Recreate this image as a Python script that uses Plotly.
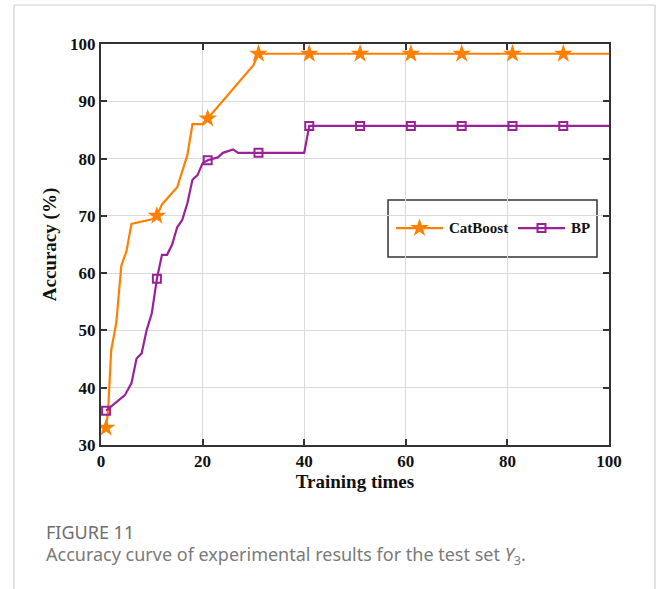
import plotly.graph_objects as go

# ---- data ----
cat_x = [1, 1.4, 2, 3, 4, 5, 6, 10, 11, 12, 15, 17, 18, 20, 21, 30, 31, 41, 51, 61, 71, 81, 91, 100]
cat_y = [33, 36, 46.5, 51.3, 61.3, 63.8, 68.6, 69.4, 70, 72, 75, 80.6, 86, 86, 87, 96.3, 98.3,
         98.3, 98.3, 98.3, 98.3, 98.3, 98.3, 98.3]
bp_x = [1, 3.7, 4.7, 6, 7, 8, 9, 10, 11, 12, 13, 14, 15, 16, 17, 18, 19, 20, 21, 23, 24, 26, 27,
        31, 40, 41, 51, 61, 71, 81, 91, 100]
bp_y = [36, 37.9, 38.7, 40.8, 45.1, 46, 50.1, 53, 59, 63.2, 63.2, 65, 68, 69.3, 72.2, 76.3, 77.1,
        79.2, 79.7, 80.2, 81, 81.6, 81, 81, 81, 85.7, 85.7, 85.7, 85.7, 85.7, 85.7, 85.7]
marker_x = [1, 11, 21, 31, 41, 51, 61, 71, 81, 91]
x_ticks = [0, 20, 40, 60, 80, 100]
y_ticks = [30, 40, 50, 60, 70, 80, 90, 100]
series_names = ["CatBoost", "BP"]

ORANGE = "#FF8000"
PURPLE = "#992299"
STAR = dict(symbol="star", size=14, color=ORANGE, line=dict(width=0))
SQUARE = dict(symbol="square-open", size=8, color=PURPLE, line=dict(width=2, color=PURPLE))


def pick(xs, ys, sel):
    d = dict(zip(xs, ys))
    return [d[v] for v in sel]


fig = go.Figure()
fig.add_trace(go.Scatter(x=cat_x, y=cat_y, mode="lines", line=dict(color=ORANGE, width=2.2),
                         showlegend=False))
fig.add_trace(go.Scatter(x=marker_x, y=pick(cat_x, cat_y, marker_x), mode="markers",
                         marker=STAR, showlegend=False))
fig.add_trace(go.Scatter(x=bp_x, y=bp_y, mode="lines", line=dict(color=PURPLE, width=2.2),
                         showlegend=False))
fig.add_trace(go.Scatter(x=marker_x, y=pick(bp_x, bp_y, marker_x), mode="markers",
                         marker=SQUARE, showlegend=False))

# ---- legend drawn on an overlay axis (0..1 across the plot area) ----
ly = 0.541
fig.add_trace(go.Scatter(x=[0.5807, 0.6732], y=[ly, ly], mode="lines", xaxis="x2", yaxis="y2",
                         line=dict(color=ORANGE, width=2.2), showlegend=False, hoverinfo="skip"))
fig.add_trace(go.Scatter(x=[0.627], y=[ly], mode="markers", xaxis="x2", yaxis="y2",
                         marker=STAR, showlegend=False, hoverinfo="skip"))
fig.add_trace(go.Scatter(x=[0.8209, 0.9134], y=[ly, ly], mode="lines", xaxis="x2", yaxis="y2",
                         line=dict(color=PURPLE, width=2.2), showlegend=False, hoverinfo="skip"))
fig.add_trace(go.Scatter(x=[0.8671], y=[ly], mode="markers", xaxis="x2", yaxis="y2",
                         marker=SQUARE, showlegend=False, hoverinfo="skip"))
for name, xpos in zip(series_names, [0.6811, 0.9213]):
    fig.add_annotation(text=name, xref="x2", yref="y2", x=xpos, y=ly, xanchor="left",
                       yanchor="middle", showarrow=False,
                       font=dict(family="Liberation Serif", size=15, color="#111111",
                                 weight="bold"))
fig.add_shape(type="rect", xref="paper", yref="paper", x0=0.565, x1=0.9764, y0=0.4688, y1=0.611,
              fillcolor="white", line=dict(color="#333333", width=1.5), layer="between")

tickfont = dict(family="Liberation Serif", size=17, color="#111111", weight="bold")
titlefont = dict(family="Liberation Serif", size=19, color="#111111", weight="bold")

fig.update_layout(
    width=656, height=589,
    margin=dict(l=101, r=47, t=44, b=144),
    paper_bgcolor="white", plot_bgcolor="white",
    font=dict(family="Liberation Serif", color="#111111"),
    showlegend=False,
    xaxis=dict(range=[0, 100], tickvals=x_ticks, ticks="inside", ticklen=6, tickwidth=1.5,
               tickcolor="#333333", showline=True, linecolor="#333333", linewidth=2,
               mirror="ticks", showgrid=True, gridcolor="#dadada", gridwidth=1,
               zeroline=False, tickfont=tickfont,
               title=dict(text="Training times", standoff=4, font=titlefont)),
    yaxis=dict(range=[30, 100], tickvals=y_ticks, ticks="inside", ticklen=6, tickwidth=1.5,
               tickcolor="#333333", showline=True, linecolor="#333333", linewidth=2,
               mirror="ticks", showgrid=True, gridcolor="#dadada", gridwidth=1,
               zeroline=False, tickfont=tickfont,
               title=dict(text="Accuracy (%)", standoff=8, font=titlefont)),
    xaxis2=dict(overlaying="x", range=[0, 1], visible=False, fixedrange=True),
    yaxis2=dict(overlaying="y", range=[0, 1], visible=False, fixedrange=True),
)

# card border (left, top, right)
for x0, y0, x1, y1 in [(-0.1713, 1.0973, 1.0906, 1.0973),
                       (-0.1713, 1.0973, -0.1713, -0.40),
                       (1.0906, 1.0973, 1.0906, -0.40)]:
    fig.add_shape(type="line", xref="paper", yref="paper", x0=x0, y0=y0, x1=x1, y1=y1,
                  line=dict(color="#d0d0d0", width=1.2), layer="below")

fig.add_annotation(text="FIGURE 11", xref="paper", yref="paper", x=-0.1122, y=-0.2170,
                   xanchor="left", yanchor="middle", showarrow=False,
                   font=dict(family="Noto Sans", size=18, color="#6e6e6e"))
fig.add_annotation(text="Accuracy curve of experimental results for the test set <i>Y</i><sub>3</sub>.",
                   xref="paper", yref="paper", x=-0.1122, y=-0.2768,
                   xanchor="left", yanchor="middle", showarrow=False,
                   font=dict(family="Noto Sans", size=18, color="#7a7a7a"))

fig.write_html("out.html")
